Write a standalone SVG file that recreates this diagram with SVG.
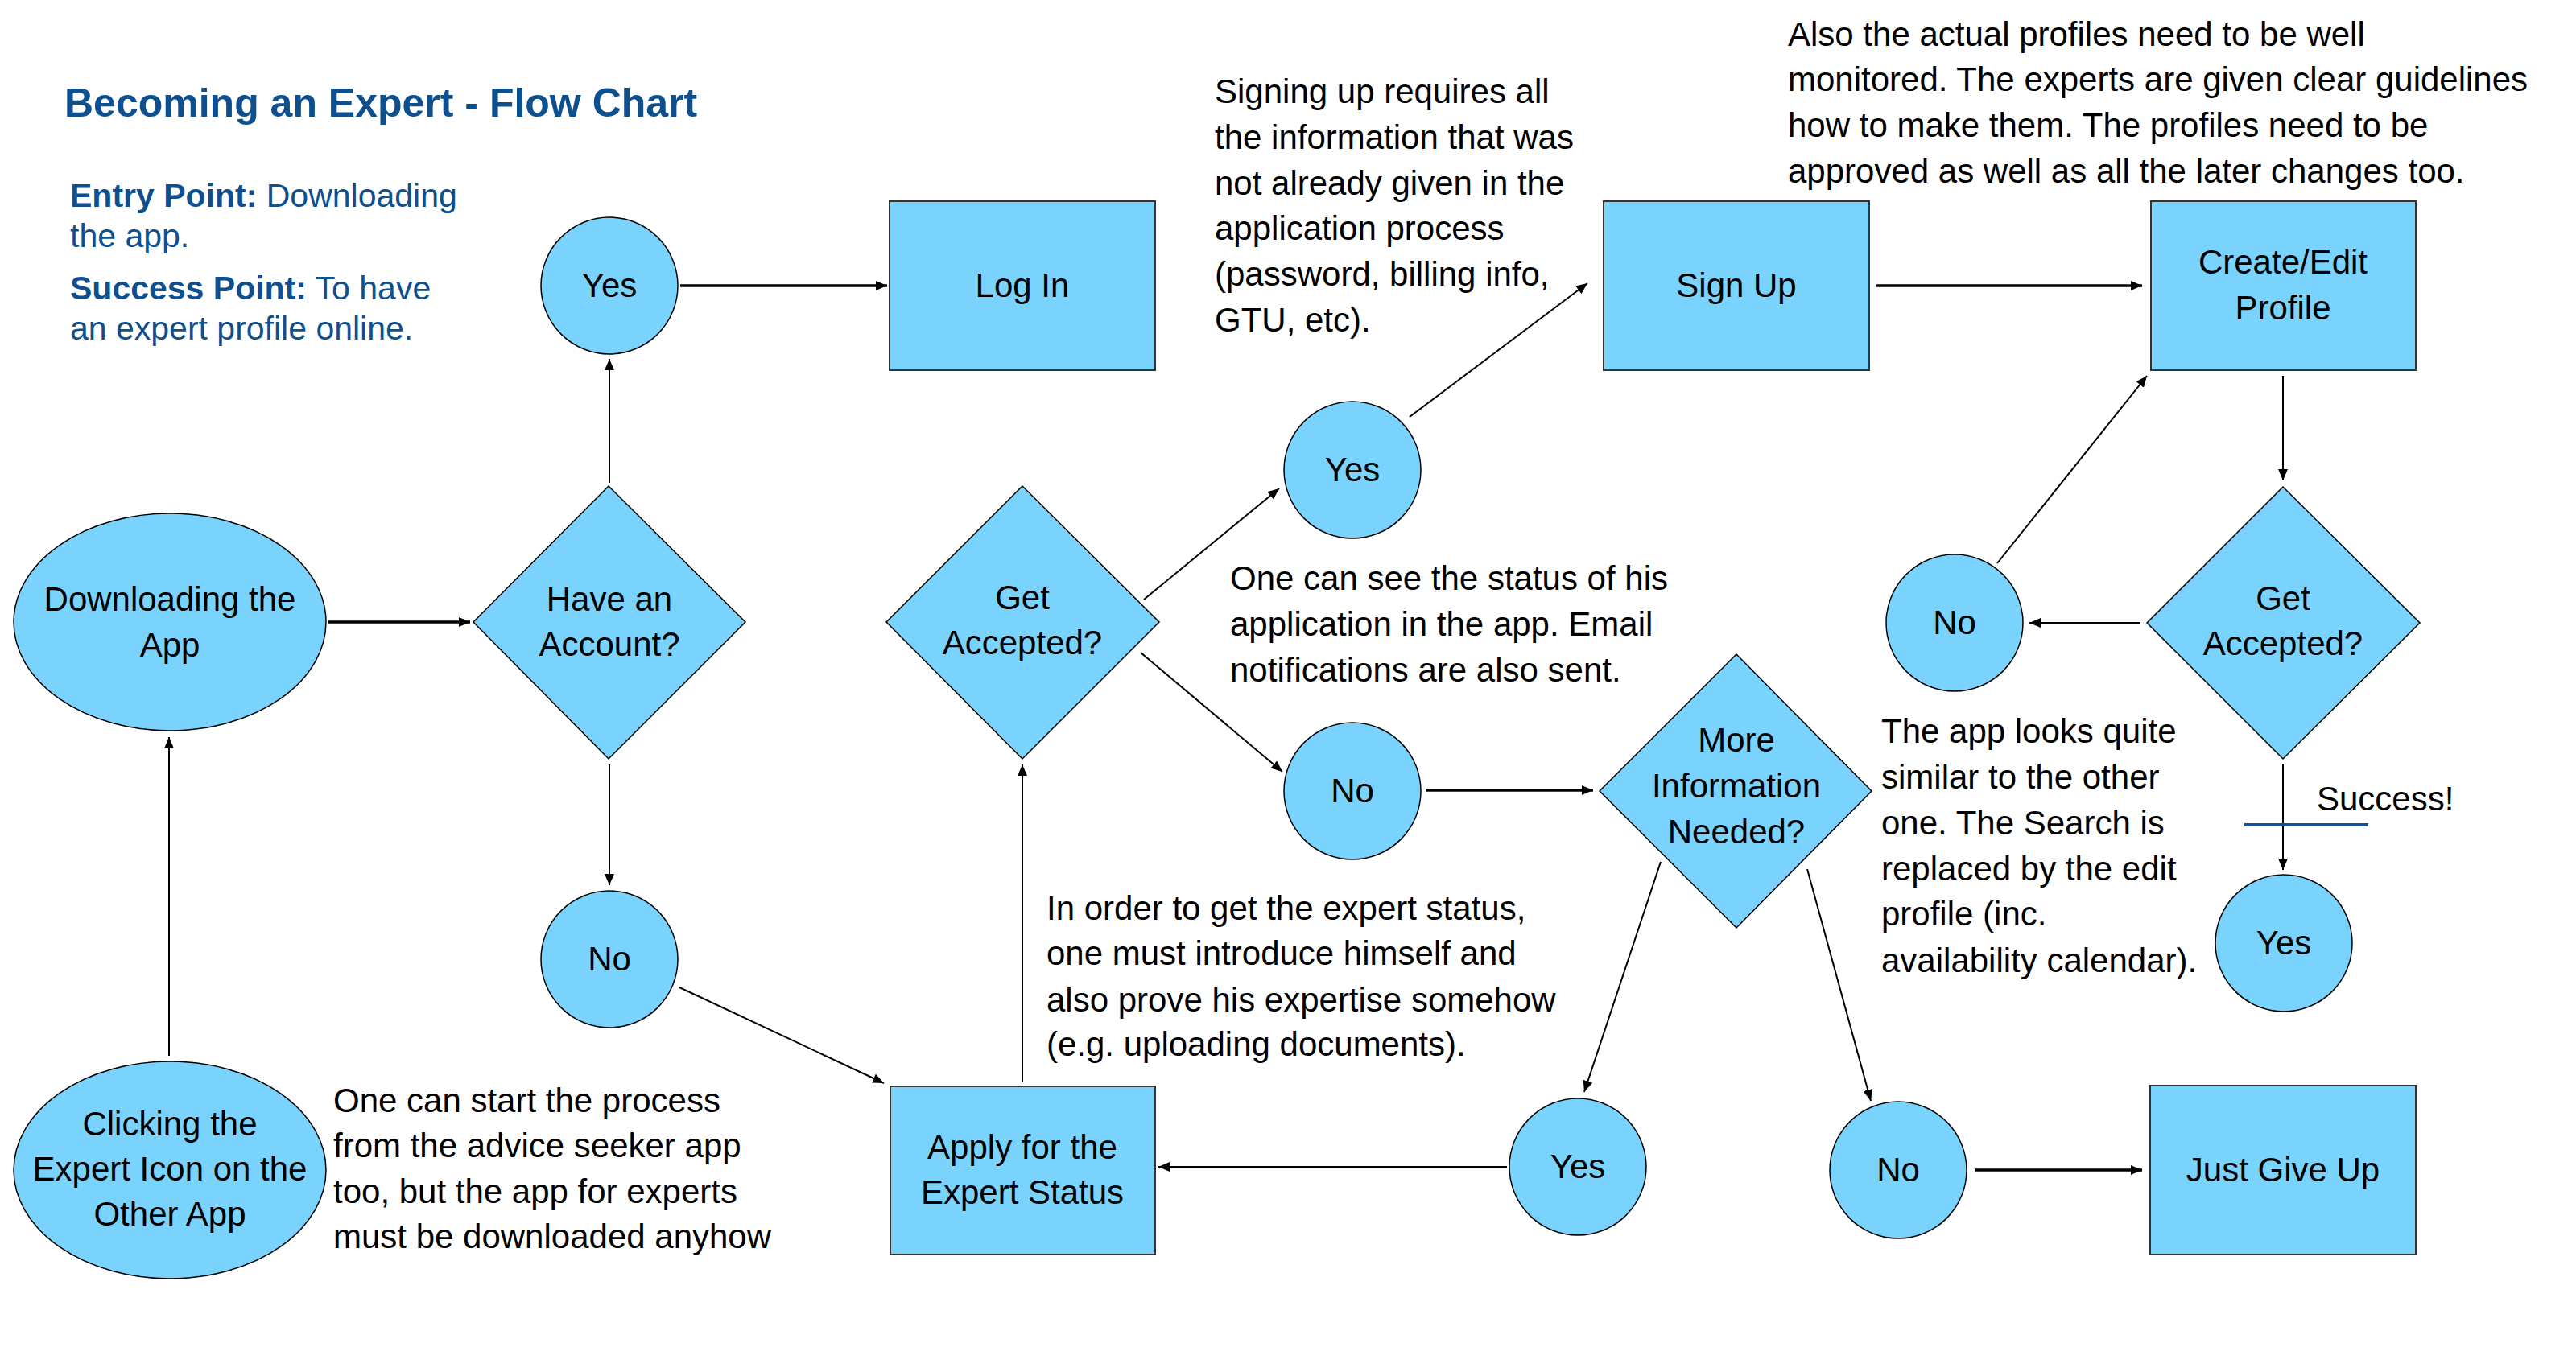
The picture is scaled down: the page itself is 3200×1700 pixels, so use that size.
<svg xmlns="http://www.w3.org/2000/svg" width="3200" height="1700" viewBox="0 0 3200 1700">
<defs>
<marker id="ah" viewBox="0 0 14 12" refX="14" refY="6" markerWidth="14" markerHeight="12" markerUnits="userSpaceOnUse" orient="auto"><path d="M0,0 L14,6 L0,12 z" fill="#000"/></marker>
</defs>
<style>
.n{fill:#7AD3FC;stroke:#000;stroke-width:1.5}
.r{fill:#7AD3FC;stroke:#333;stroke-width:2}
.t{font-family:"Liberation Sans",Arial,sans-serif;font-size:42px;fill:#000}
.c{text-anchor:middle}
.e{stroke:#000;stroke-width:2;fill:none;marker-end:url(#ah)}
.th{stroke-width:3.5}
.b{fill:#0E4F8E;font-family:"Liberation Sans",Arial,sans-serif}
</style>
<rect width="3200" height="1700" fill="#fff"/>

<g id="title">
<text class="b" x="80" y="145" font-size="50" font-weight="bold">Becoming an Expert - Flow Chart</text>
<text class="b" x="87" y="257" font-size="41"><tspan font-weight="bold">Entry Point:</tspan> Downloading</text>
<text class="b" x="87" y="307" font-size="41">the app.</text>
<text class="b" x="87" y="372" font-size="41"><tspan font-weight="bold">Success Point:</tspan> To have</text>
<text class="b" x="87" y="422" font-size="41">an expert profile online.</text>
</g>

<g id="connectors">
<line class="e th" x1="408" y1="773" x2="584" y2="773"/>
<line class="e" x1="757" y1="600" x2="757" y2="446"/>
<line class="e th" x1="845" y1="355" x2="1102" y2="355"/>
<line class="e" x1="757" y1="950" x2="757" y2="1100"/>
<line class="e" x1="844" y1="1227" x2="1098" y2="1346"/>
<line class="e" x1="210" y1="1312" x2="210" y2="916"/>
<line class="e" x1="1270" y1="1345" x2="1270" y2="950"/>
<line class="e" x1="1421" y1="745" x2="1589" y2="607"/>
<line class="e" x1="1417" y1="811" x2="1593" y2="959"/>
<line class="e" x1="1751" y1="518" x2="1972" y2="352"/>
<line class="e th" x1="2331" y1="355" x2="2661" y2="355"/>
<line class="e th" x1="1772" y1="982" x2="1979" y2="982"/>
<line class="e" x1="2063" y1="1071" x2="1968" y2="1357"/>
<line class="e" x1="2245" y1="1080" x2="2324" y2="1368"/>
<line class="e" x1="1872" y1="1450" x2="1439" y2="1450" stroke-width="3"/>
<line class="e th" x1="2453" y1="1454" x2="2661" y2="1454"/>
<line class="e" x1="2836" y1="467" x2="2836" y2="597"/>
<line class="e" x1="2659" y1="774" x2="2521" y2="774" stroke-width="3"/>
<line class="e" x1="2481" y1="700" x2="2667" y2="467"/>
<line class="e" x1="2836" y1="949" x2="2836" y2="1081"/>
<line x1="2788" y1="1025" x2="2942" y2="1025" stroke="#1B4F8F" stroke-width="4"/>
<text class="t" x="2878" y="1007">Success!</text>
</g>

<g id="n-download"><ellipse class="n" cx="211" cy="773" rx="194" ry="135"/>
<text class="t c" x="211" y="759">Downloading the</text><text class="t c" x="211" y="816">App</text></g>

<g id="n-clicking"><ellipse class="n" cx="211" cy="1454" rx="194" ry="135"/>
<text class="t c" x="211" y="1411">Clicking the</text><text class="t c" x="211" y="1467">Expert Icon on the</text><text class="t c" x="211" y="1523">Other App</text></g>

<g id="n-have"><polygon class="n" points="756,604 926,773 756,943 588,773"/>
<text class="t c" x="757" y="759">Have an</text><text class="t c" x="757" y="815">Account?</text></g>

<g id="n-yes1"><circle class="n" cx="757" cy="355" r="85"/><text class="t c" x="757" y="369">Yes</text></g>
<g id="n-no1"><circle class="n" cx="757" cy="1192" r="85"/><text class="t c" x="757" y="1206">No</text></g>

<g id="n-login"><rect class="r" x="1105" y="250" width="330" height="210"/><text class="t c" x="1270" y="369">Log In</text></g>

<g id="n-apply"><rect class="r" x="1106" y="1350" width="329" height="209"/>
<text class="t c" x="1270" y="1440">Apply for the</text><text class="t c" x="1270" y="1496">Expert Status</text></g>

<g id="n-ga1"><polygon class="n" points="1270,604 1440,773 1270,943 1101,773"/>
<text class="t c" x="1270" y="757">Get</text><text class="t c" x="1270" y="813">Accepted?</text></g>

<g id="n-yes2"><circle class="n" cx="1680" cy="584" r="85"/><text class="t c" x="1680" y="598">Yes</text></g>
<g id="n-no2"><circle class="n" cx="1680" cy="983" r="85"/><text class="t c" x="1680" y="997">No</text></g>

<g id="n-signup"><rect class="r" x="1992" y="250" width="330" height="210"/><text class="t c" x="2157" y="369">Sign Up</text></g>

<g id="n-more"><polygon class="n" points="2157,813 2325,983 2157,1153 1987,983"/>
<text class="t c" x="2157" y="934">More</text><text class="t c" x="2157" y="991">Information</text><text class="t c" x="2157" y="1048">Needed?</text></g>

<g id="n-yes4"><circle class="n" cx="1960" cy="1450" r="85"/><text class="t c" x="1960" y="1464">Yes</text></g>
<g id="n-no4"><circle class="n" cx="2358" cy="1454" r="85"/><text class="t c" x="2358" y="1468">No</text></g>

<g id="n-giveup"><rect class="r" x="2671" y="1349" width="330" height="210"/><text class="t c" x="2836" y="1468">Just Give Up</text></g>

<g id="n-create"><rect class="r" x="2672" y="250" width="329" height="210"/>
<text class="t c" x="2836" y="340">Create/Edit</text><text class="t c" x="2836" y="397">Profile</text></g>

<g id="n-ga2"><polygon class="n" points="2836,605 3006,774 2836,943 2667,774"/>
<text class="t c" x="2836" y="758">Get</text><text class="t c" x="2836" y="814">Accepted?</text></g>

<g id="n-no3"><circle class="n" cx="2428" cy="774" r="85"/><text class="t c" x="2428" y="788">No</text></g>
<g id="n-yes3"><circle class="n" cx="2837" cy="1172" r="85"/><text class="t c" x="2837" y="1186">Yes</text></g>

<g id="notes">
<text class="t" x="1509" y="128">Signing up requires all</text>
<text class="t" x="1509" y="185">the information that was</text>
<text class="t" x="1509" y="242">not already given in the</text>
<text class="t" x="1509" y="298">application process</text>
<text class="t" x="1509" y="355">(password, billing info,</text>
<text class="t" x="1509" y="412">GTU, etc).</text>

<text class="t" x="2221" y="57">Also the actual profiles need to be well</text>
<text class="t" x="2221" y="113">monitored. The experts are given clear guidelines</text>
<text class="t" x="2221" y="170">how to make them. The profiles need to be</text>
<text class="t" x="2221" y="227">approved as well as all the later changes too.</text>

<text class="t" x="1528" y="733">One can see the status of his</text>
<text class="t" x="1528" y="790">application in the app. Email</text>
<text class="t" x="1528" y="847">notifications are also sent.</text>

<text class="t" x="2337" y="923" font-size="44">The app looks quite</text>
<text class="t" x="2337" y="980" font-size="44">similar to the other</text>
<text class="t" x="2337" y="1037" font-size="44">one. The Search is</text>
<text class="t" x="2337" y="1094" font-size="44">replaced by the edit</text>
<text class="t" x="2337" y="1150" font-size="44">profile (inc.</text>
<text class="t" x="2337" y="1208" font-size="44">availability calendar).</text>

<text class="t" x="1300" y="1143">In order to get the expert status,</text>
<text class="t" x="1300" y="1199">one must introduce himself and</text>
<text class="t" x="1300" y="1257">also prove his expertise somehow</text>
<text class="t" x="1300" y="1312">(e.g. uploading documents).</text>

<text class="t" x="414" y="1382">One can start the process</text>
<text class="t" x="414" y="1438">from the advice seeker app</text>
<text class="t" x="414" y="1495">too, but the app for experts</text>
<text class="t" x="414" y="1551">must be downloaded anyhow</text>
</g>
</svg>
